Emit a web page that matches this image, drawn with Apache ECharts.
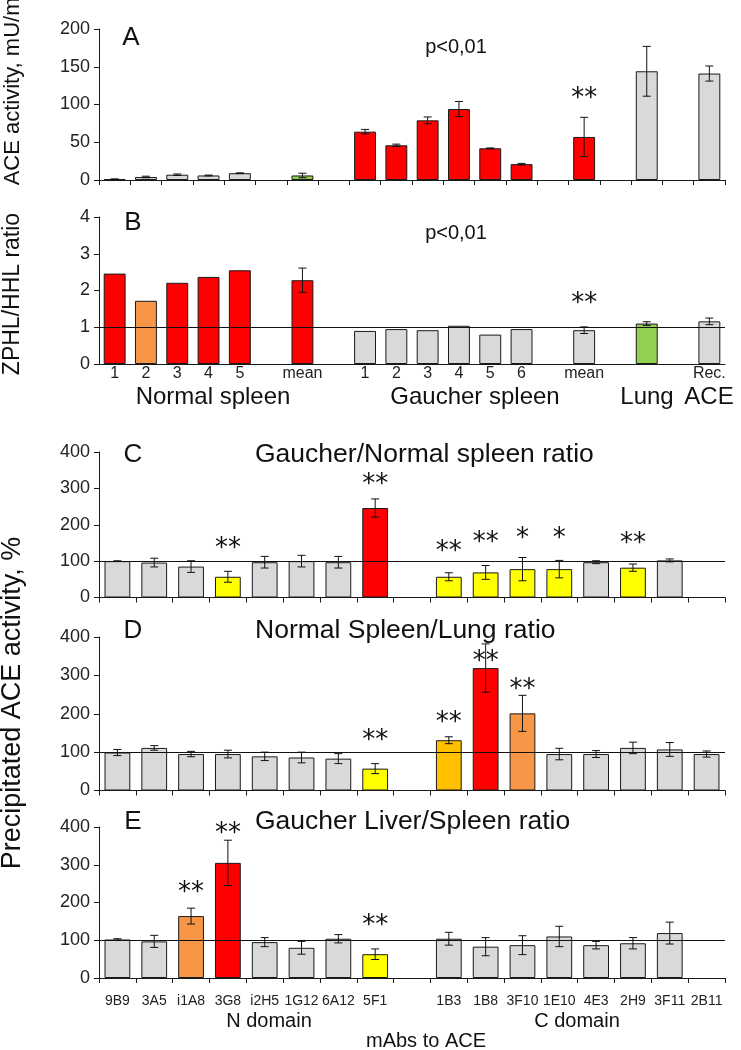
<!DOCTYPE html>
<html><head><meta charset="utf-8">
<script src="https://cdn.jsdelivr.net/npm/echarts@6/dist/echarts.min.js"></script>
<style>html,body{margin:0;padding:0;background:#fff}#c{width:741px;height:1050px}</style>
</head><body><div id="c"></div>
<script>
const FONT = '"Liberation Sans", Arial, Helvetica, sans-serif';
const STAR_FONT = '"DejaVu Sans", sans-serif';

// ---------- Panels A and B: tissue samples ----------
const sampleLabels = ['1','2','3','4','5','','mean','','1','2','3','4','5','6','','mean','','','','Rec.'];

const aValues = [1, 4, 7, 6, 9, null, 6, null, 64, 46, 79, 94, 42, 21, null, 57, null, 144, null, 141];
const aErrors = [0.5, 1, 1, 0.5, 0.5, null, 3, null, 3, 1.5, 4.5, 10, 0.5, 1, null, 26, null, 33, null, 10];
const aColors = ['gray','gray','gray','gray','gray',null,'green',null,'red','red','red','red','red','red',null,'red',null,'gray',null,'gray'];
const aStars = {15: '**'};
const aStarLevels = {15: 115};

const bValues = [2.46, 1.72, 2.21, 2.37, 2.55, null, 2.28, null, 0.90, 0.95, 0.92, 1.04, 0.80, 0.95, null, 0.92, null, 1.10, null, 1.16];
const bErrors = [null, null, null, null, null, null, 0.33, null, null, null, null, null, null, null, null, 0.09, null, 0.05, null, 0.09];
const bColors = ['red','orange','red','red','red',null,'red',null,'gray','gray','gray','gray','gray','gray',null,'gray',null,'green',null,'gray'];
const bStars = {15: '**'};
const bStarLevels = {15: 1.79};

// ---------- Panels C, D, E: mAbs to ACE ----------
const mAbLabels = ['9B9','3A5','i1A8','3G8','i2H5','1G12','6A12','5F1','','1B3','1B8','3F10','1E10','4E3','2H9','3F11','2B11'];

const cValues = [100, 96, 85, 57, 97, 100, 97, 246, null, 57, 69, 78, 78, 97, 82, 102, null];
const cErrors = [1, 12, 16, 15, 16, 16, 16, 25, null, 11, 19, 32, 24, 4, 10, 4, null];
const cColors = ['gray','gray','gray','yellow','gray','gray','gray','red',null,'yellow','yellow','yellow','yellow','gray','yellow','gray',null];
const cStars = {3:'**', 7:'**', 9:'**', 10:'**', 11:'*', 12:'*', 14:'**'};
const cStarLevels = {3:150, 7:324, 9:140, 10:167, 11:178, 12:178, 14:164};

const dValues = [99, 111, 95, 95, 89, 86, 83, 57, null, 131, 319, 201, 95, 95, 111, 107, 95];
const dErrors = [8, 6, 7, 10, 11, 14, 13, 13, null, 9, 63, 47, 15, 9, 15, 18, 8];
const dColors = ['gray','gray','gray','gray','gray','gray','gray','yellow',null,'amber','red','orange','gray','gray','gray','gray','gray'];
const dStars = {7:'**', 9:'**', 10:'**', 11:'**'};
const dStarLevels = {7:143, 9:190, 10:351, 11:278};

const eValues = [102, 97, 164, 305, 95, 80, 104, 63, null, 104, 83, 87, 110, 87, 92, 119, null];
const eErrors = [2, 16, 21, 60, 12, 17, 11, 14, null, 17, 24, 25, 27, 10, 15, 29, null];
const eColors = ['gray','gray','orange','red','gray','gray','gray','yellow',null,'gray','gray','gray','gray','gray','gray','gray',null];
const eStars = {2:'**', 3:'**', 7:'**'};
const eStarLevels = {2:240, 3:397, 7:153};

const PALETTE = {gray:'#d9d9d9', red:'#ff0000', orange:'#f79646', green:'#92d050', yellow:'#ffff00', amber:'#ffc000'};
const INK = '#1a1a1a';

// grid geometry (pixels)
const grids = [
  {left:99, width:626, top:29,  height:151},
  {left:99, width:626, top:217, height:147},
  {left:99, width:626, top:452, height:145.5},
  {left:99, width:626, top:637, height:153.5},
  {left:99, width:626, top:827, height:151}
];

const panels = [
  {labels:sampleLabels, values:aValues, errors:aErrors, colors:aColors, stars:aStars, levels:aStarLevels, max:200, step:50, ref:null, showLabels:false, ticks:true},
  {labels:sampleLabels, values:bValues, errors:bErrors, colors:bColors, stars:bStars, levels:bStarLevels, max:4, step:1, ref:1, showLabels:true, ticks:false, labelSize:16, labelMargin:2},
  {labels:mAbLabels, values:cValues, errors:cErrors, colors:cColors, stars:cStars, levels:cStarLevels, max:400, step:100, ref:100, showLabels:false, ticks:true},
  {labels:mAbLabels, values:dValues, errors:dErrors, colors:dColors, stars:dStars, levels:dStarLevels, max:400, step:100, ref:100, showLabels:false, ticks:true},
  {labels:mAbLabels, values:eValues, errors:eErrors, colors:eColors, stars:eStars, levels:eStarLevels, max:400, step:100, ref:100, showLabels:true, ticks:true, labelSize:14, labelMargin:16}
];

const xAxes = [], yAxes = [], series = [];

panels.forEach((p, k) => {
  xAxes.push({
    type:'category', gridIndex:k,
    data: p.labels.map((_, i) => String(i)),
    boundaryGap:true,
    axisLine:{show:true, lineStyle:{color:INK, width:1}},
    axisTick:{show:p.ticks, length:5, lineStyle:{color:INK}},
    axisLabel:{show:p.showLabels, interval:0, formatter:(v, i) => p.labels[i],
      fontFamily:FONT, fontSize:p.labelSize || 14, color:'#222', margin:p.labelMargin || 8},
    splitLine:{show:false}
  });
  yAxes.push({
    type:'value', gridIndex:k, min:0, max:p.max, interval:p.step,
    axisLine:{show:true, lineStyle:{color:INK, width:1}},
    axisTick:{show:true, length:5, lineStyle:{color:INK}},
    axisLabel:{fontFamily:FONT, fontSize:18, color:'#222', margin:9},
    splitLine:{show:false}
  });

  const barSeries = {
    type:'bar', xAxisIndex:k, yAxisIndex:k,
    barCategoryGap:'30%',
    data: p.values.map((v, i) => v == null ? '-' : {value:v, itemStyle:{color:PALETTE[p.colors[i]]}}),
    itemStyle:{borderColor:INK, borderWidth:1},
    silent:true
  };
  if (p.ref != null) {
    barSeries.markLine = {
      silent:true, symbol:['none','none'], label:{show:false},
      lineStyle:{color:'#111', width:1, type:'solid'},
      data:[{yAxis:p.ref}]
    };
  }
  series.push(barSeries);

  const errData = [];
  p.values.forEach((v, i) => {
    if (v != null && p.errors[i] != null) errData.push([i, v - p.errors[i], v + p.errors[i]]);
  });
  series.push({
    type:'custom', xAxisIndex:k, yAxisIndex:k, silent:true, z:5,
    data:errData,
    encode:{x:0, y:[1,2]},
    renderItem:(params, api) => {
      const i = api.value(0);
      const lo = api.coord([i, api.value(1)]);
      const hi = api.coord([i, api.value(2)]);
      const w = 4;
      const st = {stroke:'#111', lineWidth:1};
      return {type:'group', children:[
        {type:'line', shape:{x1:lo[0], y1:lo[1], x2:hi[0], y2:hi[1]}, style:st},
        {type:'line', shape:{x1:lo[0]-w, y1:lo[1], x2:lo[0]+w, y2:lo[1]}, style:st},
        {type:'line', shape:{x1:hi[0]-w, y1:hi[1], x2:hi[0]+w, y2:hi[1]}, style:st}
      ]};
    }
  });

  const starIdx = Object.keys(p.stars).map(Number);
  const starData = starIdx.map(i => [i, p.levels[i]]);
  series.push({
    type:'custom', xAxisIndex:k, yAxisIndex:k, silent:true, z:6,
    data:starData, encode:{x:0, y:1},
    renderItem:(params, api) => {
      const i = api.value(0);
      const pt = api.coord([i, api.value(1)]);
      return {type:'text', x:pt[0], y:pt[1] + 6,
        style:{text:p.stars[i], fill:'#111', font:'26px ' + STAR_FONT, align:'center', verticalAlign:'middle'}};
    }
  });
});

function txt(text, x, y, size, opts) {
  opts = opts || {};
  return {type:'text', x:x, y:y, rotation:opts.rot || 0, silent:true,
    style:{text:text, fill:'#111', font:size + 'px ' + FONT, align:opts.align || 'center', verticalAlign:'middle'}};
}

const graphics = [
  txt('A', 131, 38, 26), txt('B', 133, 223, 26), txt('C', 133, 455, 26), txt('D', 133, 631, 26), txt('E', 133, 822, 26),
  txt('p<0,01', 456, 47, 20), txt('p<0,01', 456, 233, 20),
  txt('Gaucher/Normal spleen ratio', 255, 455, 26.5, {align:'left'}),
  txt('Normal Spleen/Lung ratio', 255, 631, 26.5, {align:'left'}),
  txt('Gaucher Liver/Spleen ratio', 255, 822, 26.5, {align:'left'}),
  txt('Normal spleen', 213, 397, 24), txt('Gaucher spleen', 475, 397, 24),
  txt('Lung', 647, 397, 24), txt('ACE', 709, 397, 24),
  txt('N domain', 269, 1021, 20), txt('C domain', 577, 1021, 20), txt('mAbs to ACE', 426, 1041, 20),
  txt('ACE activity, mU/ml', 13, 89, 22, {rot:Math.PI/2}),
  txt('ZPHL/HHL ratio', 13, 294, 23, {rot:Math.PI/2}),
  txt('Precipitated ACE activity, %', 13, 703, 27, {rot:Math.PI/2})
];

const chart = echarts.init(document.getElementById('c'), null, {renderer:'canvas'});
chart.setOption({
  backgroundColor:'#fff',
  animation:false,
  grid:grids.map(g => Object.assign({containLabel:false}, g)),
  xAxis:xAxes, yAxis:yAxes, series:series,
  graphic:graphics
});
</script></body></html>
